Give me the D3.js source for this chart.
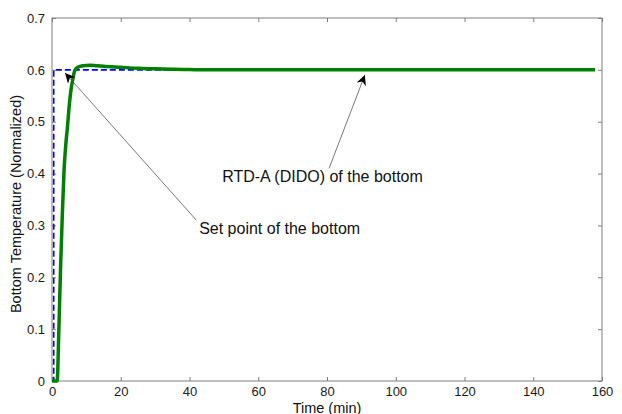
<!DOCTYPE html>
<html>
<head>
<meta charset="utf-8">
<script src="https://cdn.jsdelivr.net/npm/d3@7"></script>
<style>
  html, body { margin: 0; padding: 0; background: #fff; }
  svg { display: block; font-family: Arial, "Liberation Sans", Helvetica, sans-serif; }
</style>
</head>
<body>
<svg id="chart" width="622" height="414"></svg>
<script>
// ---- data ----
const xTicks = [0, 20, 40, 60, 80, 100, 120, 140, 160];
const yTicks = [0, 0.1, 0.2, 0.3, 0.4, 0.5, 0.6, 0.7];

// Set point of the bottom (step)
const setTime = [0, 0.5, 0.5, 158];
const setValue = [0, 0, 0.6, 0.6];

// RTD-A (DIDO) response of the bottom
const rtdTime  = [0, 1.5, 2.0, 2.5, 3.0, 3.5, 4.0, 4.5, 5.0, 5.5, 6.0, 6.6, 7.5, 9, 11, 13, 15, 20, 25, 30, 35, 40, 45, 60, 80, 100, 120, 140, 158];
const rtdValue = [0, 0, 0.10, 0.22, 0.32, 0.405, 0.455, 0.49, 0.53, 0.56, 0.58, 0.598, 0.605, 0.608, 0.609, 0.608, 0.607, 0.605, 0.603, 0.602, 0.601, 0.6005, 0.6, 0.6, 0.6, 0.6, 0.6, 0.6, 0.6];

// annotations: [label, text x, text y, tail x, tail y, head x, head y] in data units
const annotations = [
  ["Set point of the bottom", 42.8, 0.283, 42.0, 0.31, 3.8, 0.594],
  ["RTD-A (DIDO) of the bottom", 49.5, 0.384, 80.6, 0.41, 91, 0.59]
];

// ---- layout ----
const svg = d3.select("#chart");
const m = { left: 52, right: 20, top: 18, bottom: 33 };
const W = 622, H = 414;
const x = d3.scaleLinear().domain([0, 160]).range([m.left, W - m.right]);
const y = d3.scaleLinear().domain([0, 0.7]).range([H - m.bottom, m.top]);
const axisColor = "#7f7f7f";

// axes box
svg.append("rect")
  .attr("x", x(0)).attr("y", y(0.7))
  .attr("width", x(160) - x(0)).attr("height", y(0) - y(0.7))
  .attr("fill", "none").attr("stroke", axisColor).attr("stroke-width", 1);

function styleAxis(g, showLabels) {
  g.select(".domain").remove();
  g.selectAll(".tick line").attr("stroke", axisColor);
  g.selectAll(".tick text").attr("fill", "#1a1a1a").style("font-size", "13px")
    .attr("display", showLabels ? null : "none");
}
svg.append("g").attr("transform", `translate(0,${y(0)})`)
  .call(d3.axisBottom(x).tickValues(xTicks).tickFormat(d3.format("d")).tickSizeInner(-4).tickSizeOuter(0).tickPadding(6))
  .call(g => styleAxis(g, true));
svg.append("g").attr("transform", `translate(0,${y(0.7)})`)
  .call(d3.axisTop(x).tickValues(xTicks).tickSizeInner(-4).tickSizeOuter(0))
  .call(g => styleAxis(g, false));
svg.append("g").attr("transform", `translate(${x(0)},0)`)
  .call(d3.axisLeft(y).tickValues(yTicks).tickFormat(d => d === 0 ? "0" : d3.format(".1f")(d)).tickSizeInner(-4).tickSizeOuter(0).tickPadding(7))
  .call(g => styleAxis(g, true));
svg.append("g").attr("transform", `translate(${x(160)},0)`)
  .call(d3.axisRight(y).tickValues(yTicks).tickSizeInner(-4).tickSizeOuter(0))
  .call(g => styleAxis(g, false));

// lines
const line = d3.line().x(d => x(d[0])).y(d => y(d[1]));
svg.append("path")
  .datum(setTime.map((t, i) => [t, setValue[i]]))
  .attr("d", line).attr("fill", "none")
  .attr("stroke", "#0000ff").attr("stroke-width", 1.6).attr("stroke-dasharray", "6,3");
svg.append("path")
  .datum(rtdTime.map((t, i) => [t, rtdValue[i]]))
  .attr("d", d3.line().x(d => x(d[0])).y(d => y(d[1])).curve(d3.curveMonotoneX))
  .attr("fill", "none")
  .attr("stroke", "#008000").attr("stroke-width", 3.5).attr("stroke-linejoin", "round");

// arrowhead marker
svg.append("defs").append("marker")
  .attr("id", "arrow").attr("viewBox", "0 0 10 10")
  .attr("refX", 10).attr("refY", 5)
  .attr("markerWidth", 10).attr("markerHeight", 10)
  .attr("markerUnits", "userSpaceOnUse")
  .attr("orient", "auto")
  .append("path").attr("d", "M0,0 L10,5 L0,10 L3,5 Z").attr("fill", "#000");

annotations.forEach(a => {
  svg.append("line")
    .attr("x1", x(a[3])).attr("y1", y(a[4]))
    .attr("x2", x(a[5])).attr("y2", y(a[6]))
    .attr("stroke", "#555").attr("stroke-width", 0.8)
    .attr("marker-end", "url(#arrow)");
  svg.append("text")
    .attr("x", x(a[1])).attr("y", y(a[2]))
    .attr("fill", "#111").style("font-size", "16px")
    .text(a[0]);
});

// axis labels
svg.append("text")
  .attr("x", 327).attr("y", 412.5)
  .attr("text-anchor", "middle").attr("fill", "#111").style("font-size", "14.5px")
  .text("Time (min)");
svg.append("text")
  .attr("transform", `translate(21,204) rotate(-90)`)
  .attr("text-anchor", "middle").attr("fill", "#111").style("font-size", "14.5px")
  .text("Bottom Temperature (Normalized)");
</script>
</body>
</html>
